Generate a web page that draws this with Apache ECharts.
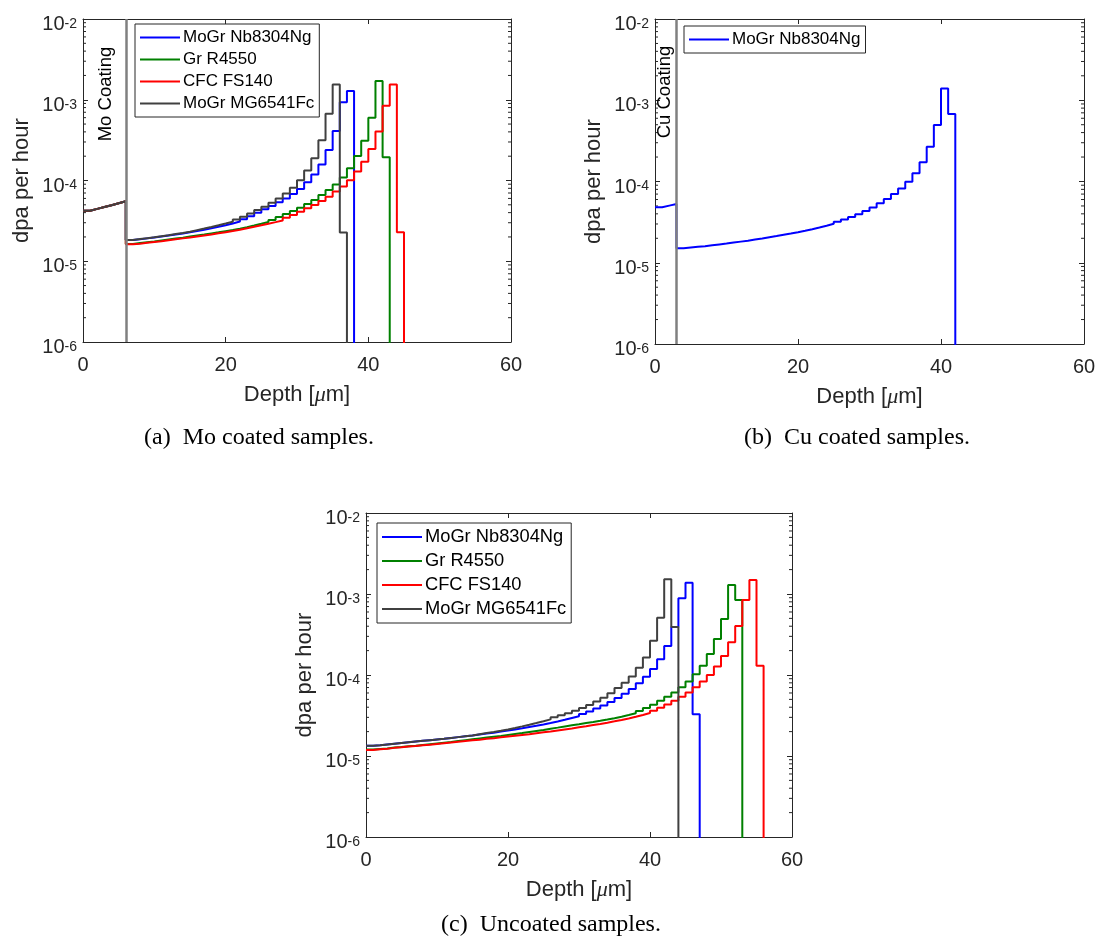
<!DOCTYPE html>
<html>
<head>
<meta charset="utf-8">
<script src="https://cdn.jsdelivr.net/npm/echarts@6/dist/echarts.min.js"></script>
<style>
  html, body { margin: 0; padding: 0; background: #ffffff; }
  #chart { width: 1102px; height: 949px; }
</style>
</head>
<body>
<div id="chart"></div>
<script>
// Damage rate profiles, dpa per hour, in 1 µm depth bins.
// All values below are in units of 1e-5 dpa/h, each array starts at its own first bin.
const BIN = 1;          // µm per bin
const UNIT = 1e-5;      // scale of the stored values
const FLOOR = 1e-9;     // value used to close each profile below the axis

const seriesNames = ['MoGr Nb8304Ng', 'Gr R4550', 'CFC FS140', 'MoGr MG6541Fc'];
const seriesColors = ['#0000ff', '#008000', '#ff0000', '#404040'];

// (a) Mo coated samples: 6 µm of Mo coating followed by the bulk material
const moCoating = [4.23, 4.45, 4.69, 4.95, 5.23, 5.52];
const moNb8304Ng = [1.83, 1.87, 1.92, 1.97, 2.02, 2.08, 2.14, 2.21, 2.28, 2.37, 2.46, 2.56, 2.67, 2.79, 2.93, 3.10,
  3.31, 3.62, 4.00, 4.40, 4.83, 5.37, 6.00, 6.80, 7.85, 9.50, 11.9, 15.8, 23.9, 41.0, 93.0, 128];
const moR4550 = [1.64, 1.68, 1.72, 1.76, 1.81, 1.86, 1.91, 1.96, 2.02, 2.08, 2.14, 2.21, 2.28, 2.36, 2.44, 2.53,
  2.64, 2.77, 2.91, 3.06, 3.24, 3.53, 3.85, 4.19, 4.60, 5.12, 5.74, 6.60, 7.60, 8.95, 10.9, 14.2, 20.1, 31.0, 60.0,
  171, 19.4];
const moFS140 = [1.62, 1.65, 1.69, 1.73, 1.77, 1.82, 1.87, 1.92, 1.97, 2.03, 2.09, 2.15, 2.22, 2.29, 2.37, 2.46,
  2.56, 2.67, 2.79, 2.92, 3.05, 3.20, 3.46, 3.74, 4.11, 4.52, 4.98, 5.57, 6.30, 7.30, 8.40, 10.1, 12.9, 17.1, 24.5,
  40.3, 84.5, 155, 2.28];
const moMG6541Fc = [1.83, 1.88, 1.93, 1.98, 2.04, 2.10, 2.17, 2.24, 2.32, 2.43, 2.54, 2.66, 2.79, 2.93, 3.09, 3.28,
  3.55, 3.90, 4.31, 4.74, 5.30, 6.00, 6.90, 8.15, 10.1, 13.3, 18.8, 31.4, 67.0, 155, 2.27];

// (b) Cu coated samples: 3 µm of Cu coating followed by the bulk material
const cuCoating = [4.81, 5.05, 5.28];
const cuNb8304Ng = [1.51, 1.54, 1.57, 1.60, 1.64, 1.68, 1.72, 1.77, 1.82, 1.87, 1.93, 1.99, 2.06, 2.13, 2.21, 2.29,
  2.38, 2.48, 2.59, 2.72, 2.86, 3.02, 3.20, 3.41, 3.66, 3.96, 4.33, 4.80, 5.40, 6.10, 7.00, 8.20, 9.90, 12.6, 17.2,
  26.8, 49.6, 140, 67.8];

// (c) Uncoated samples
const unNb8304Ng = [1.34, 1.36, 1.39, 1.42, 1.45, 1.48, 1.51, 1.54, 1.57, 1.60, 1.63, 1.67, 1.71, 1.75, 1.79, 1.84,
  1.89, 1.94, 2.00, 2.06, 2.13, 2.20, 2.28, 2.36, 2.45, 2.55, 2.67, 2.80, 2.95, 3.10, 3.30, 3.55, 3.85, 4.20, 4.65,
  5.20, 5.85, 6.70, 7.90, 9.50, 11.9, 15.6, 22.8, 39.0, 88.5, 138, 3.27];
const unR4550 = [1.20, 1.22, 1.24, 1.27, 1.29, 1.32, 1.34, 1.37, 1.40, 1.43, 1.46, 1.49, 1.53, 1.57, 1.61, 1.65,
  1.69, 1.73, 1.77, 1.82, 1.87, 1.92, 1.98, 2.04, 2.10, 2.17, 2.24, 2.32, 2.40, 2.47, 2.55, 2.63, 2.72, 2.82, 2.93,
  3.05, 3.20, 3.37, 3.60, 3.92, 4.30, 4.80, 5.40, 6.10, 7.05, 8.30, 10.2, 13.0, 18.2, 27.8, 49.0, 129, 84.3];
const unFS140 = [1.19, 1.21, 1.23, 1.26, 1.28, 1.31, 1.33, 1.36, 1.38, 1.41, 1.44, 1.47, 1.50, 1.53, 1.56, 1.59,
  1.63, 1.66, 1.70, 1.74, 1.78, 1.82, 1.86, 1.91, 1.96, 2.01, 2.07, 2.13, 2.19, 2.26, 2.33, 2.41, 2.49, 2.58, 2.68,
  2.79, 2.91, 3.05, 3.21, 3.39, 3.62, 3.93, 4.33, 4.82, 5.40, 6.10, 7.05, 8.30, 10.0, 12.7, 17.2, 25.3, 40.3, 84.3,
  149, 13.0];
const unMG6541Fc = [1.34, 1.36, 1.39, 1.42, 1.45, 1.48, 1.51, 1.54, 1.57, 1.60, 1.63, 1.67, 1.71, 1.75, 1.79, 1.86,
  1.92, 1.98, 2.05, 2.13, 2.22, 2.32, 2.43, 2.55, 2.68, 2.83, 3.00, 3.18, 3.38, 3.62, 3.90, 4.25, 4.70, 5.25, 5.95,
  6.90, 8.00, 9.60, 12.3, 16.5, 26.5, 51.0, 152, 39.0];

// Axis ranges and ticks
const DEPTH_MIN = 0, DEPTH_MAX = 60, DEPTH_STEP = 20;
const DPA_MIN = 1e-6, DPA_MAX = 1e-2;
const minorMantissas = [2, 3, 4, 5, 6, 7, 8, 9];
const minorDecades = [-6, -5, -4, -3];

const AXIS_COLOR = '#262626';
const SANS = '"Liberation Sans", Arial, sans-serif';
const SERIF = '"Liberation Serif", "Times New Roman", serif';

// Turns bin values into a staircase that falls off the bottom after the last bin
function stairs(values) {
  const pts = values.map((v, i) => [i * BIN, v * UNIT]);
  pts.push([values.length * BIN, FLOOR]);
  return pts;
}

const minorTickValues = [];
minorDecades.forEach(e => minorMantissas.forEach(m => minorTickValues.push(m * Math.pow(10, e))));

const panels = [
  { grid: { left: 83, top: 19, width: 428, height: 323 } },
  { grid: { left: 655, top: 19, width: 429, height: 325 } },
  { grid: { left: 366, top: 513, width: 426, height: 324 } }
];

const xAxes = [], yAxes = [];
panels.forEach((p, i) => {
  xAxes.push({
    gridIndex: i, type: 'value', min: DEPTH_MIN, max: DEPTH_MAX, interval: DEPTH_STEP,
    position: 'bottom',
    name: 'Depth [{i|μ}m]', nameLocation: 'middle', nameGap: 42,
    nameTextStyle: {
      fontSize: 22, fontFamily: SANS, color: AXIS_COLOR,
      rich: { i: { fontSize: 22, fontFamily: SERIF, fontStyle: 'italic', color: AXIS_COLOR } }
    },
    axisLine: { show: true, onZero: false, lineStyle: { color: AXIS_COLOR, width: 1 } },
    axisTick: { show: true, inside: true, length: 5, lineStyle: { color: AXIS_COLOR } },
    axisLabel: { fontSize: 20, fontFamily: SANS, color: AXIS_COLOR, margin: 13 },
    splitLine: { show: false }
  });
  xAxes.push({
    gridIndex: i, type: 'value', min: DEPTH_MIN, max: DEPTH_MAX, interval: DEPTH_STEP,
    position: 'top',
    axisLine: { show: true, onZero: false, lineStyle: { color: AXIS_COLOR, width: 1 } },
    axisTick: { show: true, inside: true, length: 5, lineStyle: { color: AXIS_COLOR } },
    axisLabel: { show: false },
    splitLine: { show: false }
  });
  yAxes.push({
    gridIndex: i, type: 'log', logBase: 10, min: DPA_MIN, max: DPA_MAX, position: 'left',
    name: 'dpa per hour', nameLocation: 'middle', nameGap: 50,
    nameTextStyle: { fontSize: 22, fontFamily: SANS, color: AXIS_COLOR },
    axisLine: { show: true, onZero: false, lineStyle: { color: AXIS_COLOR, width: 1 } },
    axisTick: { show: true, inside: true, length: 5, lineStyle: { color: AXIS_COLOR } },
    axisLabel: {
      showMinLabel: true, showMaxLabel: true, margin: 6,
      formatter: v => '{b|10}{s|' + Math.round(Math.log10(v)) + '}',
      rich: {
        b: { fontSize: 20, fontFamily: SANS, color: AXIS_COLOR, lineHeight: 20, padding: [11, 0, 0, 0] },
        s: { fontSize: 14, fontFamily: SANS, color: AXIS_COLOR, lineHeight: 14, padding: [8, 0, 0, 0], verticalAlign: 'top' }
      }
    },
    splitLine: { show: false }
  });
  yAxes.push({
    gridIndex: i, type: 'log', logBase: 10, min: DPA_MIN, max: DPA_MAX, position: 'right',
    axisLine: { show: true, onZero: false, lineStyle: { color: AXIS_COLOR, width: 1 } },
    axisTick: { show: true, inside: true, length: 5, lineStyle: { color: AXIS_COLOR } },
    axisLabel: { show: false },
    splitLine: { show: false }
  });
});

function lineSeries(panel, name, color, values, extra) {
  return Object.assign({
    type: 'line', name: name, xAxisIndex: panel * 2, yAxisIndex: panel * 2,
    step: 'end', symbol: 'none', showSymbol: false, clip: true, silent: true,
    lineStyle: { color: color, width: 2 }, itemStyle: { color: color },
    emphasis: { disabled: true },
    data: stairs(values)
  }, extra || {});
}

function boundaryLine(depth) {
  return {
    symbol: 'none', silent: true, animation: false, z: 10,
    label: { show: false },
    lineStyle: { color: '#808080', width: 2.5, type: 'solid' },
    data: [{ xAxis: depth }]
  };
}

// Minor log ticks on both sides of each panel
function minorTicks(panel) {
  return {
    type: 'custom', xAxisIndex: panel * 2, yAxisIndex: panel * 2, silent: true, clip: false, z: 3,
    data: minorTickValues.map(v => [DEPTH_MIN, v]),
    renderItem: (params, api) => {
      const v = api.value(1);
      const l = api.coord([DEPTH_MIN, v]);
      const r = api.coord([DEPTH_MAX, v]);
      const st = { stroke: AXIS_COLOR, lineWidth: 1 };
      return {
        type: 'group', children: [
          { type: 'line', shape: { x1: l[0], y1: l[1], x2: l[0] + 3, y2: l[1] }, style: st },
          { type: 'line', shape: { x1: r[0] - 3, y1: r[1], x2: r[0], y2: r[1] }, style: st }
        ]
      };
    }
  };
}

const moSets = [moNb8304Ng, moR4550, moFS140, moMG6541Fc];
const unSets = [unNb8304Ng, unR4550, unFS140, unMG6541Fc];

const series = [];
moSets.forEach((vals, k) => {
  series.push(lineSeries(0, seriesNames[k], seriesColors[k], moCoating.concat(vals),
    k === moSets.length - 1 ? { markLine: boundaryLine(moCoating.length * BIN) } : null));
});
series.push(lineSeries(1, seriesNames[0], seriesColors[0], cuCoating.concat(cuNb8304Ng),
  { markLine: boundaryLine(cuCoating.length * BIN) }));
unSets.forEach((vals, k) => {
  series.push(lineSeries(2, seriesNames[k], seriesColors[k], vals));
});
[0, 1, 2].forEach(p => series.push(minorTicks(p)));

function legendBox(names, left, top, fontSize, gap) {
  return {
    data: names, orient: 'vertical', left: left, top: top,
    itemWidth: 40, itemHeight: 14, itemGap: gap, padding: [5, 5, 5, 4],
    backgroundColor: '#ffffff', borderColor: AXIS_COLOR, borderWidth: 1,
    selectedMode: false,
    itemStyle: { opacity: 0 },
    lineStyle: { width: 2, opacity: 1 },
    textStyle: { fontSize: fontSize, fontFamily: SANS, color: '#000000', padding: [0, 0, 0, -2] }
  };
}

const option = {
  backgroundColor: '#ffffff',
  animation: false,
  grid: panels.map(p => Object.assign({ containLabel: false }, p.grid)),
  xAxis: xAxes,
  yAxis: yAxes,
  legend: [
    legendBox(seriesNames, 135, 24, 17, 5),
    legendBox([seriesNames[0]], 684, 26, 17, 5),
    legendBox(seriesNames, 377, 523, 18.3, 6)
  ],
  series: series,
  graphic: [
    { type: 'text', x: 106, y: 94, rotation: Math.PI / 2, z: 20,
      style: { text: 'Mo Coating', fontSize: 18.5, fontFamily: SANS, fill: '#000', align: 'center', verticalAlign: 'middle' } },
    { type: 'text', x: 665, y: 92, rotation: Math.PI / 2, z: 20,
      style: { text: 'Cu Coating', fontSize: 18.5, fontFamily: SANS, fill: '#000', align: 'center', verticalAlign: 'middle' } },
    { type: 'text', x: 259, y: 438,
      style: { text: '(a)  Mo coated samples.', fontSize: 24, fontFamily: SERIF, fill: '#000', align: 'center', verticalAlign: 'middle' } },
    { type: 'text', x: 857, y: 438,
      style: { text: '(b)  Cu coated samples.', fontSize: 24, fontFamily: SERIF, fill: '#000', align: 'center', verticalAlign: 'middle' } },
    { type: 'text', x: 551, y: 925,
      style: { text: '(c)  Uncoated samples.', fontSize: 24, fontFamily: SERIF, fill: '#000', align: 'center', verticalAlign: 'middle' } }
  ]
};

const chart = echarts.init(document.getElementById('chart'), null, { renderer: 'canvas' });
chart.setOption(option);
</script>
</body>
</html>
